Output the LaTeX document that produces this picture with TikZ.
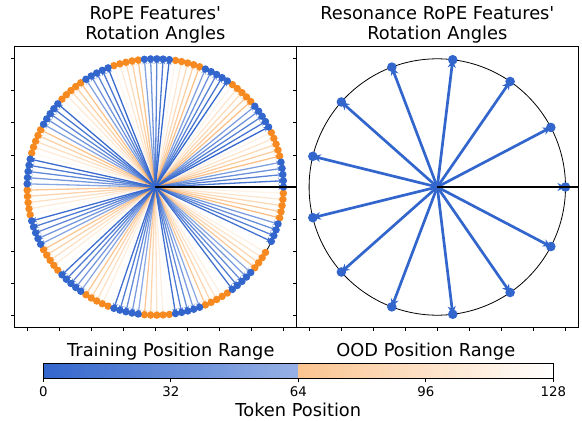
\documentclass[tikz,border=0pt]{standalone}
\usepackage{fontspec}
\setmainfont{DejaVu Sans}[Ligatures=TeXOff]
\usetikzlibrary{arrows.meta}
\definecolor{rpblue}{RGB}{51,102,204}
\definecolor{rporange}{RGB}{246,137,31}
\begin{document}
\begin{tikzpicture}[x=1pt,y=1pt,
  bigtxt/.style={font=\fontsize{17.8}{21}\selectfont, inner sep=0pt, anchor=base},
  smalltxt/.style={font=\fontsize{13.3}{16}\selectfont, inner sep=0pt, anchor=base},
  spine/.style={line width=0.9pt, draw=black},
  tickmark/.style={line width=0.8pt, draw=black},
  ring/.style={line width=0.8pt, draw=black},
  refline/.style={line width=1.4pt, draw=black},
  ropeline/.style={line width=1.3pt, -{Stealth[length=5pt,width=5pt]}},
  resline/.style={line width=2.7pt, draw=rpblue, -{Stealth[length=8pt,width=8pt]}},
  ]
\useasboundingbox (0,0) rectangle (582,421);
\def\R{128.2}
\def\th{27.907}
\coordinate (cL) at (155.3,234);
\coordinate (cR) at (437.3,234);
\coordinate (eL) at (296.3,234);
\coordinate (eR) at (578.3,234);

% ---------- left panel ----------
\draw[ring] (cL) circle (\R);
\foreach \n in {127,126,...,0}{
  \pgfmathsetmacro\ang{mod(\n*\th,360)}
  \pgfmathsetmacro\op{1-\n/128}
  \ifnum\n<64 \def\lc{rpblue}\else\def\lc{rporange}\fi
  \path (cL) ++(\ang:\R) coordinate (pL\n);
  \draw[ropeline, draw=\lc, fill=\lc, opacity=\op] (cL) -- (pL\n);
}
\foreach \n in {64,...,127}{
  \fill[rporange] (pL\n) circle (3.7pt);
}
\foreach \n in {0,...,63}{
  \fill[rpblue] (pL\n) circle (3.7pt);
}
\draw[refline] (cL) -- (eL);

% ---------- right panel ----------
\draw[ring] (cR) circle (\R);
\foreach \k in {0,...,12}{
  \pgfmathsetmacro\ang{\k*360/13}
  \path (cR) ++(\ang:\R) coordinate (pR\k);
  \draw[resline, fill=rpblue] (cR) -- (pR\k);
}
\foreach \k in {0,...,12}{
  \fill[rpblue] (pR\k) circle (4.8pt);
}
\draw[refline] (cR) -- (eR);

% ---------- frames and ticks ----------
\draw[spine] (14.3,93.5) rectangle (296.3,374.5);
\draw[spine] (296.3,93.5) rectangle (578.3,374.5);
\foreach \k in {-4,...,4}{
  \draw[tickmark] (14.3,{234+(\k)*32.05}) -- ++(-3.5,0);
  \draw[tickmark] (296.3,{234+(\k)*32.05}) -- ++(-3.5,0);
  \draw[tickmark] ({155.3+(\k)*32.05},93.5) -- ++(0,-3.5);
  \draw[tickmark] ({437.3+(\k)*32.05},93.5) -- ++(0,-3.5);
}

% ---------- titles ----------
\node[bigtxt] (t1a) at (155.3,401) {RoPE Features'};
\node[bigtxt] (t1b) at (155.3,381) {Rotation Angles};
\node[bigtxt] (t2a) at (437.3,401) {Resonance RoPE Features'};
\node[bigtxt] (t2b) at (437.3,381) {Rotation Angles};

% ---------- colorbar ----------
\shade[left color=rpblue, right color=rpblue!51!white] (43.3,42.7) rectangle (298.3,57.7);
\shade[left color=rporange!50!white, right color=white] (298.3,42.7) rectangle (553.3,57.7);
\draw[line width=0.9pt] (43.3,42.7) rectangle (553.3,57.7);
\foreach \v in {0,32,64,96,128}{
  \draw[tickmark] ({43.3+\v*3.984375},42.7) -- ++(0,-3.5);
  \node[smalltxt] (cb\v) at ({43.3+\v*3.984375},24.3) {\v};
}
\node[bigtxt] (trainlbl) at (170.8,64.3) {Training Position Range};
\node[bigtxt] (oodlbl) at (425.8,64.3) {OOD Position Range};
\node[bigtxt] (xlbl) at (298.3,4.5) {Token Position};
\end{tikzpicture}
\end{document}
